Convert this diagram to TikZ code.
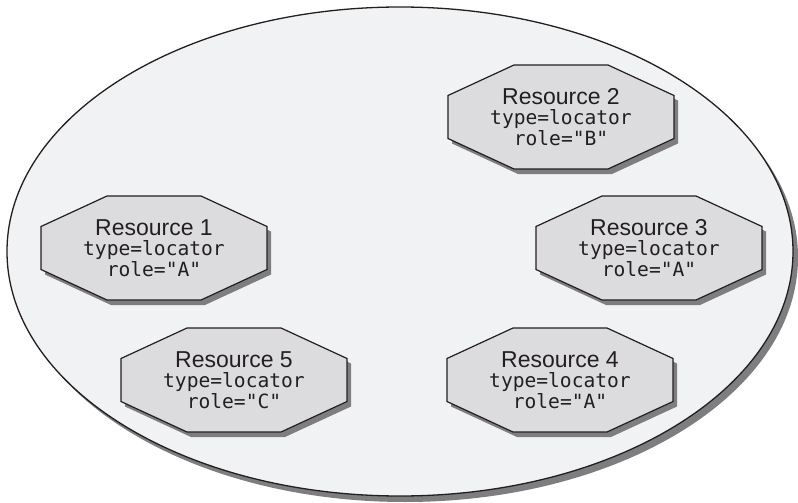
\documentclass[tikz,border=0pt]{standalone}
\usepackage{fontspec}
\setmainfont{Liberation Sans}
\newfontfamily\monof{DejaVu Sans Mono}
\definecolor{ellfill}{HTML}{F1F2F4}
\definecolor{octfill}{HTML}{DCDCDE}
\definecolor{shadowc}{HTML}{7E7E80}
\definecolor{linec}{HTML}{231F20}
\newcommand\resbox[4]{%
  \begin{scope}[shift={(#2)}]
    \fill[shadowc, shift={(4,5)}] (-113,-21.5) -- (-47,-52) -- (47,-52) -- (113,-21.5) -- (113,21.5) -- (47,52) -- (-47,52) -- (-113,21.5) -- cycle;
    \filldraw[octstyle] (-113,-21.5) -- (-47,-52) -- (47,-52) -- (113,-21.5) -- (113,21.5) -- (47,52) -- (-47,52) -- (-113,21.5) -- cycle;
  \end{scope}
  \node[restext] (#1) at (#2) {{\fontsize{23}{20.5}\selectfont Resource #3}\\{\monof type=locator}\\{\monof role="#4"}};}
\tikzset{
  octstyle/.style={fill=octfill, draw=linec, line width=1.2pt, line join=miter},
  restext/.style={align=center, inner sep=0pt, font=\fontsize{19.6}{20.5}\selectfont, text=linec},
}
\begin{document}
\begin{tikzpicture}[x=1pt, y=-1pt]
\useasboundingbox (0,0) rectangle (798,503);
\fill[shadowc] (405,257.5) ellipse [x radius=393, y radius=244.5];
\filldraw[fill=ellfill, draw=linec, line width=1.3pt] (400,251.5) ellipse [x radius=393, y radius=244.5];
\resbox{r1}{154,248}{1}{A}
\resbox{r2}{561,117}{2}{B}
\resbox{r3}{649,248}{3}{A}
\resbox{r4}{560,380}{4}{A}
\resbox{r5}{234,380}{5}{C}
\end{tikzpicture}
\end{document}
